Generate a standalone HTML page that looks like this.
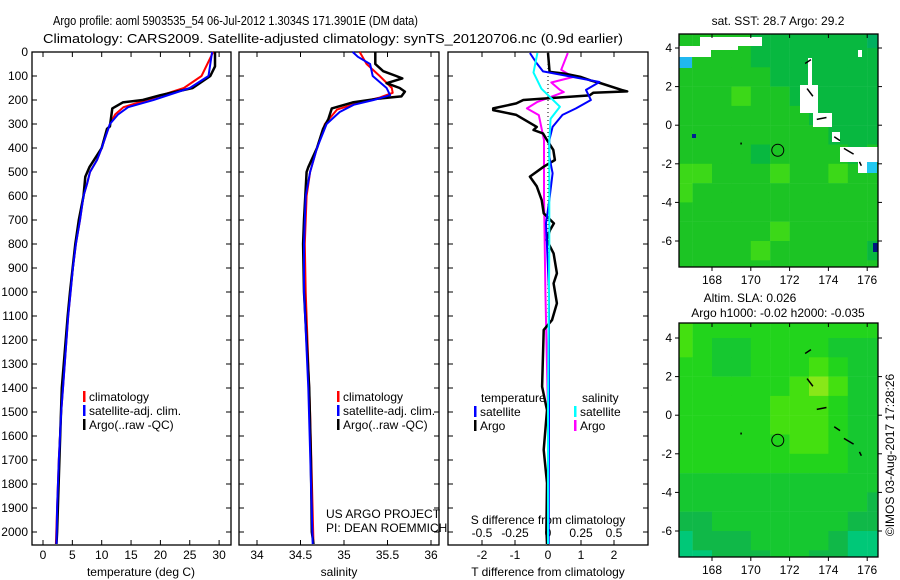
<!DOCTYPE html>
<html><head><meta charset="utf-8"><style>
html,body{margin:0;padding:0;background:#fff;}
svg{display:block;font-family:"Liberation Sans",sans-serif;}
</style></head><body>
<svg id="chart" width="900" height="580" viewBox="0 0 900 580" xmlns="http://www.w3.org/2000/svg">
<text transform="translate(53,25) scale(0.85,1)" x="0" y="0" font-size="13">Argo profile: aoml 5903535_54 06-Jul-2012 1.3034S 171.3901E (DM data)</text>
<text x="43" y="43" font-size="13" textLength="580" lengthAdjust="spacingAndGlyphs">Climatology: CARS2009. Satellite-adjusted climatology: synTS_20120706.nc (0.9d earlier)</text>
<g id="g"></g>
</svg>
<script>
// ---------- data ----------
const depthTicks=[0,100,200,300,400,500,600,700,800,900,1000,1100,1200,1300,1400,1500,1600,1700,1800,1900,2000];
const tempTicks=[0,5,10,15,20,25,30];
const salTicks=[34,34.5,35,35.5,36];
const tdiffTicks=[-2,-1,0,1,2];
const sdiffTicks=[-0.5,-0.25,0,0.25,0.5];
const sdiffLabels=["-0.5","-0.25","0","0.25","0.5"];

const tArgoD=[0,60,100,150,180,200,210,235,310,320,400,480,520,600,700,800,1000,1100,1400,1700,2000,2050];
const tArgoV=[29.3,29.3,28.5,25.5,20,17,13.6,11.8,11.4,10.9,10,7.9,7.2,6.9,6.1,5.5,4.6,4.2,3.2,2.8,2.4,2.3];
const tClimD=[0,100,150,200,230,260,300,400,450,500,550,600,700,800,900,1000,1100,1400,1500,1700,1900,2050];
const tClimV=[29,27,24,17.7,13.7,12.3,11.4,10,9.2,8,7.5,6.9,6.3,5.6,5.1,4.7,4.3,3.4,3.1,2.7,2.4,2.2];
const tSatD=[0,100,150,200,230,260,300,400,450,500,550,600,700,800,900,1000,1100,1400,1500,1700,1900,2050];
const tSatV=[28.8,28.2,25,18.8,14.5,12.8,11.4,10,9.2,8,7.5,6.9,6.3,5.6,5.1,4.7,4.3,3.4,3.1,2.7,2.4,2.3];

const sArgoD=[0,50,80,100,110,130,150,165,185,195,210,235,280,320,400,480,500,700,800,1000,1400,1700,2000,2050];
const sArgoV=[35.36,35.36,35.45,35.6,35.67,35.49,35.64,35.7,35.66,35.38,35.1,34.86,34.82,34.76,34.69,34.59,34.57,34.54,34.53,34.54,34.6,34.62,34.63,34.65];
const sClimD=[0,50,100,150,170,190,210,240,300,400,500,600,800,1000,1500,2050];
const sClimV=[35.18,35.26,35.41,35.55,35.56,35.41,35.18,34.92,34.78,34.69,34.61,34.57,34.55,34.56,34.61,34.65];
const sSatD=[0,20,50,100,150,180,200,220,250,300,400,500,600,800,1000,1400,2050];
const sSatV=[35.1,35.16,35.3,35.33,35.49,35.53,35.34,35.11,34.95,34.8,34.69,34.61,34.56,34.54,34.54,34.59,34.64];

const dTArgoD=[4,83,90,104,119,129,158,164,170,181,200,214,235,242,262,312,325,339,367,408,450,478,519,560,617,672,714,742,783,839,922,964,1047,1117,1158,1394,1492,1658,1796,1992,2050];
const dTArgoV=[0,0.05,0.5,1.0,1.3,1.58,2.23,2.4,1.37,1.26,-0.75,-0.96,-1.66,-1.66,-0.96,-0.34,-0.44,-0.15,-0.03,0.16,0.21,-0.13,-0.55,-0.34,-0.19,-0.13,0.18,0.06,-0.04,0.17,0.27,0.17,0.27,0.12,-0.13,-0.18,-0.03,-0.13,-0.03,-0.05,-0.03];
const dTSatD=[4,46,81,104,125,158,200,235,262,312,367,436,505,617,714,1000,1500,2050];
const dTSatV=[-0.55,-0.35,-0.15,0.76,1.56,1.15,1.3,0.85,0.44,0.14,0.04,0.04,0.14,0.04,-0.06,0.03,0.03,0.02];
const dSArgoD=[4,74,104,127,158,167,208,235,263,367,600,1000,1500,2050];
const dSArgoV=[0.15,0.1,0.19,0.025,0.09,0.12,-0.08,-0.16,-0.07,-0.03,-0.03,-0.02,0,0];
const dSSatD=[4,86,153,190,228,278,367,800,1500,2050];
const dSSatV=[-0.08,-0.11,-0.05,0.02,0.09,0.02,0.01,0.01,0,0];

// map grids (1 deg cells, lon 166..177, lat 5..-8)
const sstGrid=[
[2,2,2,2,1,1,1,1,1,1,0],[2,2,2,2,1,1,1,1,1,1,1],[2,2,2,2,2,1,1,1,1,1,1],
[2,2,2,3,2,2,1,1,1,1,1],[2,2,2,2,2,2,2,1,1,1,1],[2,2,2,2,2,2,2,2,1,1,1],
[2,2,2,2,1,2,2,2,2,1,2],[3,3,2,2,2,3,2,2,3,2,2],[3,2,2,2,2,2,2,2,2,2,2],
[2,2,2,2,2,2,2,2,2,2,2],[2,2,2,2,2,3,2,2,2,2,2],[2,2,2,2,3,2,2,2,2,2,1],[2,2,2,2,2,2,2,2,2,2,2]];
const slaGrid=[
[4,3,3,3,3,3,3,3,3,3,3],[4,3,2,2,3,3,3,3,2,2,2],[3,3,2,2,3,3,3,4,3,2,2],
[3,3,3,3,3,3,4,5,4,2,2],[3,3,3,3,3,4,4,4,3,2,2],[3,3,3,3,3,4,4,4,3,2,2],
[3,3,3,3,3,3,4,4,3,2,2],[3,3,3,3,3,3,3,3,3,2,2],[2,2,2,2,2,2,2,2,2,2,2],
[2,2,2,2,2,2,2,2,2,2,1],[1,1,2,2,2,2,2,2,2,1,1],[0,1,1,1,2,2,2,2,1,0,0],[0,0,1,1,1,2,2,1,1,0,0]];
const lonTicks=[168,170,172,174,176];
const latTicks=[4,2,0,-2,-4,-6];
const argoLon=171.39, argoLat=-1.30;

// ---------- helpers ----------
const NS="http://www.w3.org/2000/svg";
const G=document.getElementById('g');
function mk(tag,attrs,parent){const e=document.createElementNS(NS,tag);for(const k in attrs)e.setAttribute(k,attrs[k]);(parent||G).appendChild(e);return e;}
const yD=d=>52+d*0.24;
const BOT=545, TOP=52;
const xT=t=>43+t*5.87;
const xS=s=>257+(s-34)*87;
const xDT=t=>548+t*33;
const xDS=s=>548+s*132;

function frame(x0,x1,name){
  const r=mk('rect',{x:x0,y:TOP,width:x1-x0,height:BOT-TOP,fill:'none',stroke:'#000','stroke-width':1.3});
  
  
  depthTicks.forEach(d=>{const y=yD(d);
    mk('line',{x1:x0,x2:x0+5,y1:y,y2:y,stroke:'#000'});
    mk('line',{x1:x1-5,x2:x1,y1:y,y2:y,stroke:'#000'});});
}
function xticks(vals,f,labels,ly){
  vals.forEach((v,i)=>{const x=f(v);
    mk('line',{x1:x,x2:x,y1:BOT,y2:BOT-5,stroke:'#000'});
    mk('line',{x1:x,x2:x,y1:TOP,y2:TOP+5,stroke:'#000'});
    if(labels){const t=mk('text',{x:x,y:ly,'font-size':12,'text-anchor':'middle'});t.textContent=labels[i];
      
      }
  });
}
function line(D,V,fx,color,w,name){
  const pts=D.map((d,i)=>fx(V[i]).toFixed(1)+','+yD(d).toFixed(1)).join(' ');
  const p=mk('polyline',{points:pts,fill:'none',stroke:color,'stroke-width':w,'stroke-linejoin':'round'});
  
  
}
function txt(x,y,s,size,name,anchor){const t=mk('text',{x:x,y:y,'font-size':size||12,'text-anchor':anchor||'start'});t.textContent=s;
  
  
  return t;}
function legend(x,y,color,label,name){
  mk('rect',{x:x,y:y-10,width:2.5,height:11,fill:color});
  txt(x+6,y,label,12,name);
}

// ---------- panel 1 ----------
depthTicks.forEach(d=>{const t=txt(28,yD(d)+4,String(d),12,'y-tick-label','end');});
frame(32,231,'temperature-panel');
xticks(tempTicks,xT,tempTicks.map(String),559);
txt(141,576,'temperature (deg C)',12,'temperature-axis-title','middle');
line(tClimD,tClimV,xT,'#f00',2,'temp-climatology-line');
line(tArgoD,tArgoV,xT,'#000',2.5,'temp-argo-line');
line(tSatD,tSatV,xT,'#00f',2,'temp-satellite-line');
legend(83,401,'#f00','climatology','legend-climatology');
legend(83,415,'#00f','satellite-adj. clim.','legend-satellite');
legend(83,429,'#000','Argo(..raw -QC)','legend-argo');

// ---------- panel 2 ----------
frame(239,439,'salinity-panel');
xticks(salTicks,xS,["34","34.5","35","35.5","36"],559);
txt(339,576,'salinity',12,'salinity-axis-title','middle');
line(sClimD,sClimV,xS,'#f00',2,'sal-climatology-line');
line(sArgoD,sArgoV,xS,'#000',2.5,'sal-argo-line');
line(sSatD,sSatV,xS,'#00f',2,'sal-satellite-line');
legend(337,401,'#f00','climatology','legend-climatology-2');
legend(337,415,'#00f','satellite-adj. clim.','legend-satellite-2');
legend(337,429,'#000','Argo(..raw -QC)','legend-argo-2');
txt(326,518,'US ARGO PROJECT',12,'credit-project');
txt(326,532,'PI: DEAN ROEMMICH',12,'credit-pi');

// ---------- panel 3 ----------
frame(448,648,'difference-panel');
mk('line',{x1:548,x2:548,y1:TOP,y2:320,stroke:'#000','stroke-dasharray':'1,3'});
xticks(tdiffTicks,xDT,tdiffTicks.map(String),559);
sdiffTicks.forEach((v,i)=>{txt(xDS(v),537,sdiffLabels[i],12,'s-diff-tick-label','middle');});
txt(548,524,'S difference from climatology',12,'s-diff-axis-title','middle');
txt(548,576,'T difference from climatology',12,'t-diff-axis-title','middle');
line(dSArgoD,dSArgoV,xDS,'#f0f',2,'sdiff-argo-line');
line(dTArgoD,dTArgoV,xDT,'#000',2.5,'tdiff-argo-line');
line(dTSatD,dTSatV,xDT,'#00f',2,'tdiff-satellite-line');
line(dSSatD,dSSatV,xDS,'#0ff',2,'sdiff-satellite-line');
txt(481,402,'temperature',12,'legend-temperature-header');
legend(474,416,'#00f','satellite','legend-t-satellite');
legend(474,430,'#000','Argo','legend-t-argo');
txt(582,402,'salinity',12,'legend-salinity-header');
legend(574,416,'#0ff','satellite','legend-s-satellite');
legend(574,430,'#f0f','Argo','legend-s-argo');

// ---------- maps ----------
const mx=lon=>712+(lon-168)*19.4;
function map(y0,y1,latY,grid,pal,name,cid){
  const my=lat=>latY+(4-lat)*19.3;
  const cp=mk('clipPath',{id:cid});mk('rect',{x:679,y:y0,width:199,height:y1-y0},cp);
  const gg=mk('g',{'clip-path':'url(#'+cid+')'});
  
  
  grid.forEach((row,r)=>row.forEach((v,c)=>{
    const c0=166+c, la=5-r;
    mk('rect',{x:mx(c0),y:my(la),width:19.6,height:19.5,fill:pal[v]},gg);
  }));
  return {my,gg};
}
const sstPal=['#00b060','#08b840','#1cc424','#3cd818','#80e018'];
const m1=map(34,267,48,sstGrid,sstPal,'sst-map','c1');
const wh=[[679,46,32,11],[700,37,62,9],[711,46,27,4],[808,58,4,27],[800,85,18,28],[813,113,19,14],[832,132,8,10],[840,147,38,15],[858,162,9,11],[858,50,4,7]];
wh.forEach(w=>mk('rect',{x:w[0],y:w[1],width:w[2],height:w[3],fill:'#fff'},m1.gg));
mk('rect',{x:679,y:57,width:13,height:11,fill:'#20b8f0'},m1.gg);
mk('rect',{x:867,y:162,width:10,height:11,fill:'#20c8f0'},m1.gg);
mk('rect',{x:873,y:243,width:5,height:9,fill:'#001880'},m1.gg);
mk('rect',{x:692,y:134,width:4,height:4,fill:'#002090'},m1.gg);
const slaPal=['#00c878','#10b848','#16c830','#22d41c','#44e010','#88e818'];
const m2=map(323,557,338,slaGrid,slaPal,'sla-map','c2');
[[0,34,267,48,'sst'],[1,323,557,338,'sla']].forEach(([k,y0,y1,latY,nm])=>{
  const my=lat=>latY+(4-lat)*19.3;
  const f=mk('rect',{x:679,y:y0,width:199,height:y1-y0,fill:'none',stroke:'#000','stroke-width':1.3});
  
  
  [[172.8,3.2,173.1,3.4],[172.9,1.9,173.2,1.5],[173.4,0.3,173.9,0.4],[174.3,-0.6,174.6,-0.8],[174.8,-1.2,175.3,-1.5],[175.6,-1.9,175.7,-2.1],[169.5,-0.9,169.5,-1.0]].forEach(s=>
    mk('line',{x1:mx(s[0]),y1:my(s[1]),x2:mx(s[2]),y2:my(s[3]),stroke:'#000','stroke-width':1.5}));
  const c=mk('circle',{cx:mx(argoLon),cy:my(argoLat),r:6,fill:'none',stroke:'#000','stroke-width':1});
  
  
  lonTicks.forEach(l=>{const x=mx(l);
    mk('line',{x1:x,x2:x,y1:y0,y2:y0+4,stroke:'#000'});
    mk('line',{x1:x,x2:x,y1:y1,y2:y1+4,stroke:'#000'});
    txt(x,y1+17,String(l),12,'map-lon-label','middle');});
  latTicks.forEach(l=>{const y=my(l);
    mk('line',{x1:675,x2:679,y1:y,y2:y,stroke:'#000'});
    mk('line',{x1:878,x2:882,y1:y,y2:y,stroke:'#000'});
    txt(672,y+4,String(l),12,'map-lat-label','end');});
});
txt(778,25,'sat. SST: 28.7 Argo: 29.2',12,'sst-map-title','middle');
txt(750,302,'Altim. SLA: 0.026',12,'sla-map-title','middle');
txt(778,317,'Argo h1000: -0.02 h2000: -0.035',12,'sla-map-subtitle','middle');
const rt=txt(0,0,'©IMOS 03-Aug-2017 17:28:26',12,'timestamp-credit','middle');
rt.setAttribute('transform','translate(894,455) rotate(-90)');
</script>
</body></html>
